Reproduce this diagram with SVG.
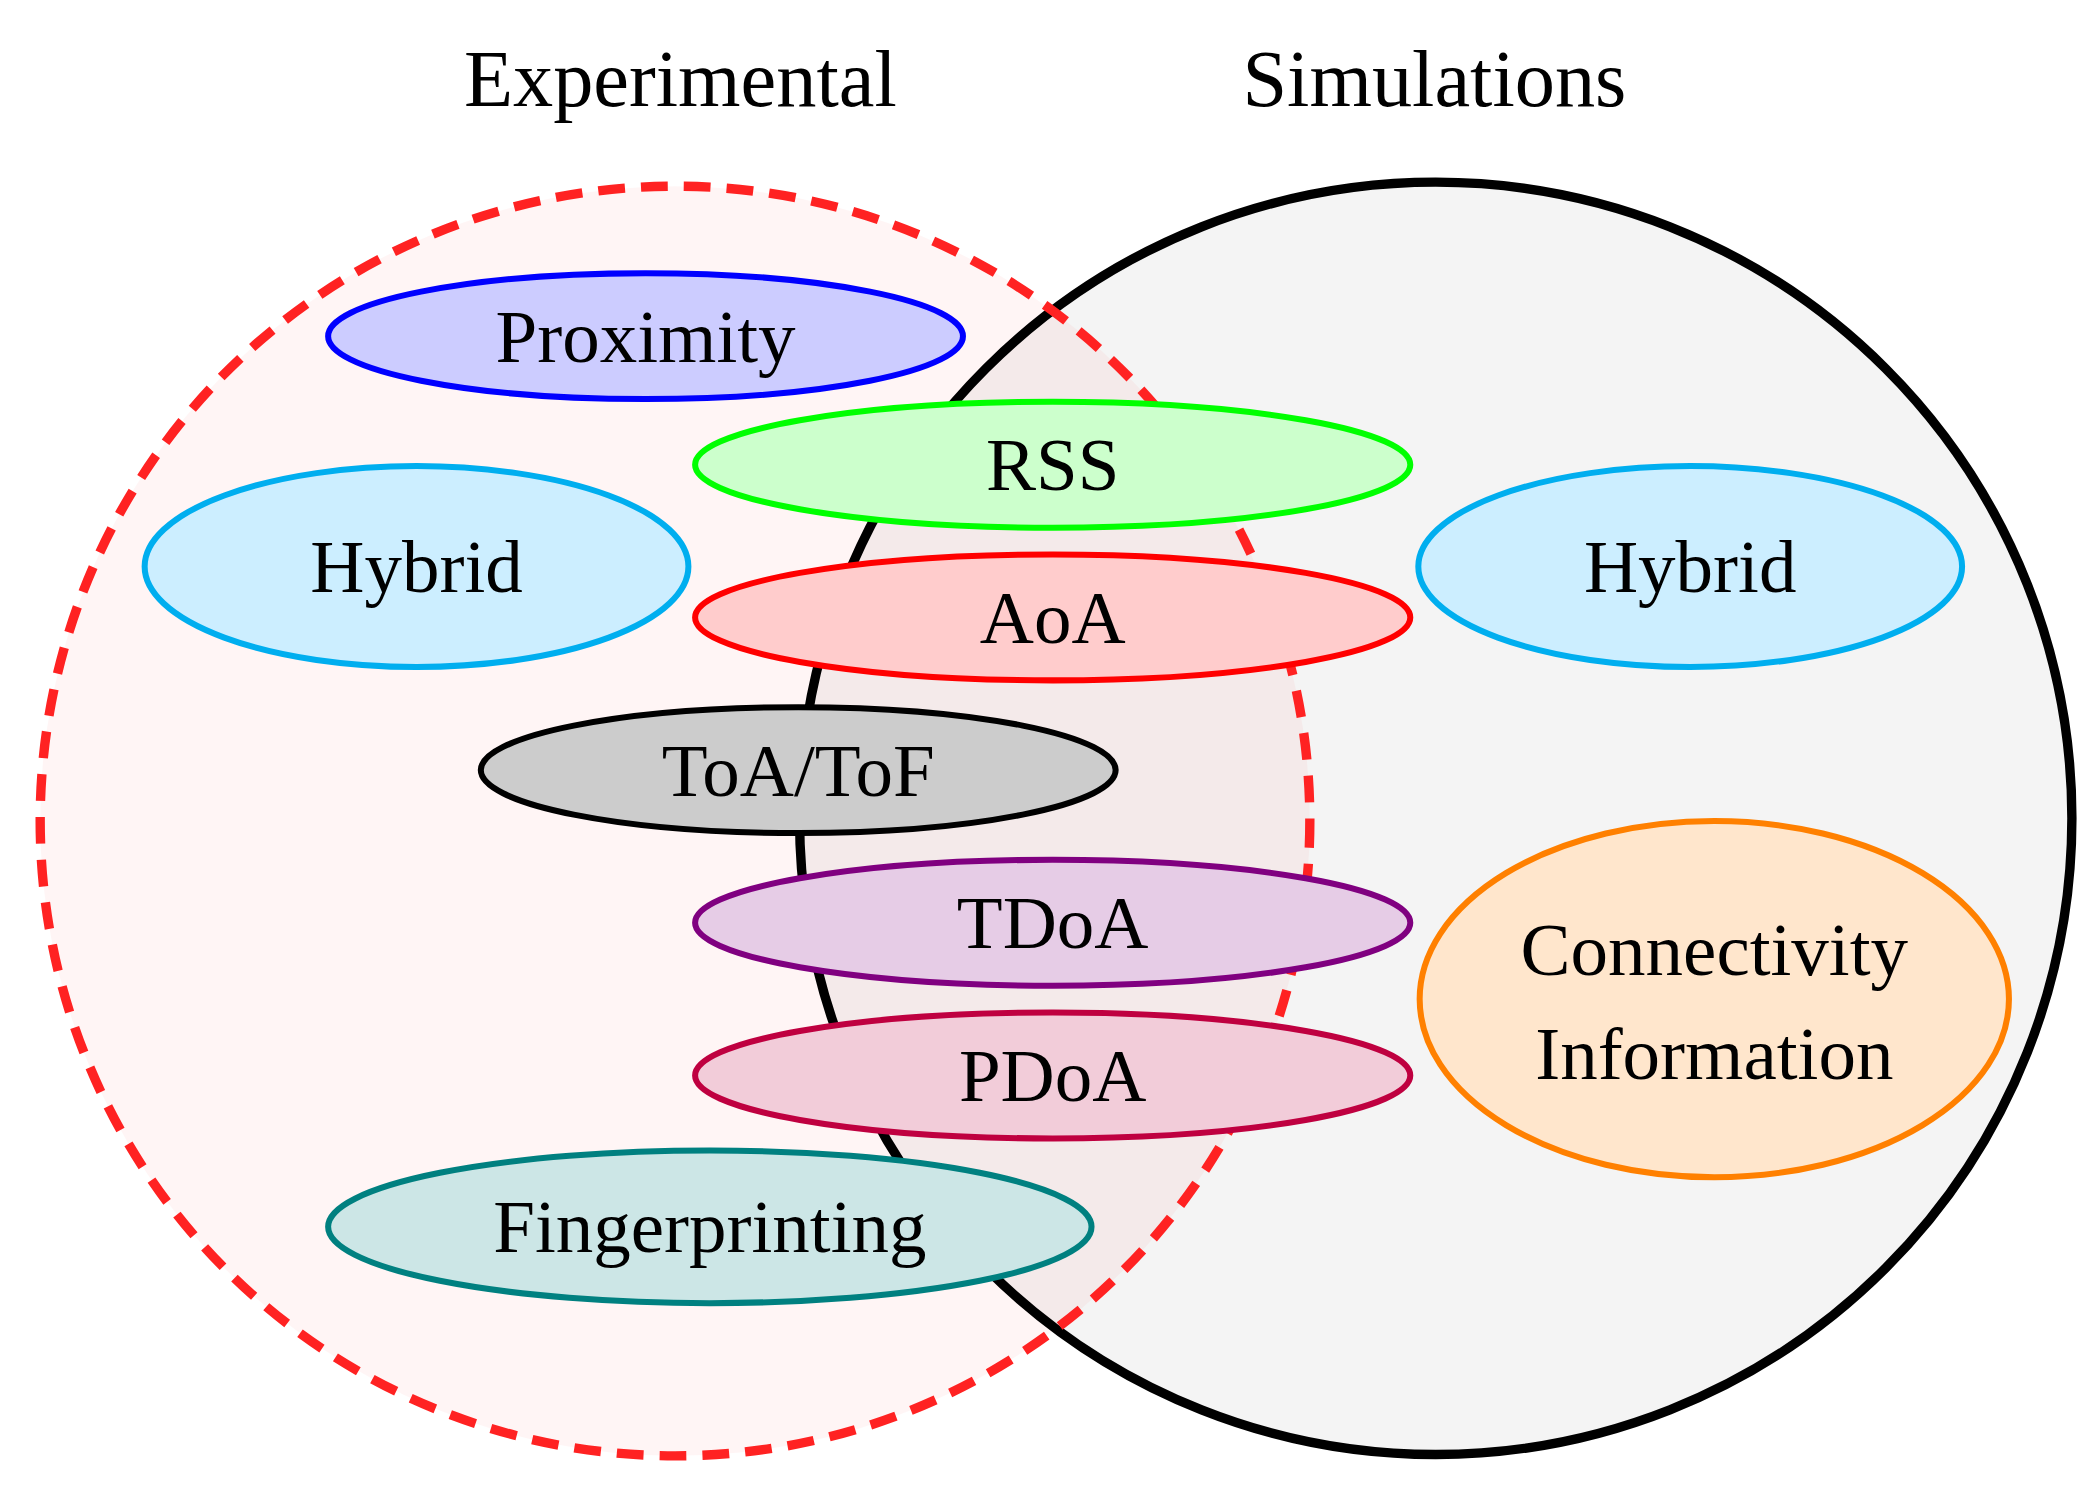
<svg xmlns="http://www.w3.org/2000/svg" width="2100" height="1506" viewBox="0 0 2100 1506">
<style>
text{font-family:"Liberation Serif","DejaVu Serif",serif;text-anchor:middle;fill:#000}
.t{font-size:60px}
.l{font-size:56px}
.e{stroke-width:4.5}
</style>
<rect width="2100" height="1506" fill="#fff"/>
<g transform="scale(1.3393)">
<g id="sets">
<circle cx="1072" cy="611" r="475" fill="#f4f4f4"/>
<circle cx="504" cy="613" r="474" fill="#ff0000" fill-opacity="0.04"/>
<circle id="simulations" cx="1072" cy="611" r="475" fill="none" stroke="#000" stroke-width="7"/>
<circle id="experimental" cx="504" cy="613" r="474" fill="none" stroke="#f22" stroke-width="7" stroke-dasharray="20 12"/>
<text class="t" x="508" y="79">Experimental</text>
<text class="t" x="1071" y="79">Simulations</text>
</g>
<g id="connectors"></g>
<g id="proximity"><ellipse class="e" cx="482" cy="251" rx="237" ry="47" fill="#ccccff" stroke="#0000ff"/><text class="l" x="482" y="270">Proximity</text></g>
<g id="rss"><ellipse class="e" cx="786" cy="347" rx="267" ry="47" fill="#ccffcc" stroke="#00ff00"/><text class="l" x="786" y="366">RSS</text></g>
<g id="hybrid-left"><ellipse class="e" cx="311" cy="423" rx="203" ry="75" fill="#cceeff" stroke="#00aeef"/><text class="l" x="311" y="442">Hybrid</text></g>
<g id="hybrid-right"><ellipse class="e" cx="1262" cy="423" rx="203" ry="75" fill="#cceeff" stroke="#00aeef"/><text class="l" x="1262" y="442">Hybrid</text></g>
<g id="aoa"><ellipse class="e" cx="786" cy="461" rx="267" ry="47" fill="#ffcccc" stroke="#ff0000"/><text class="l" x="786" y="480">AoA</text></g>
<g id="toa"><ellipse class="e" cx="596" cy="575" rx="237" ry="47" fill="#cccccc" stroke="#000"/><text class="l" x="596" y="594">ToA/ToF</text></g>
<g id="tdoa"><ellipse class="e" cx="786" cy="689" rx="267" ry="47" fill="#e6cce6" stroke="#800080"/><text class="l" x="786" y="708">TDoA</text></g>
<g id="connectivity"><ellipse class="e" cx="1280" cy="746" rx="220" ry="133" fill="#ffe6cc" stroke="#ff8000"/><text class="l" x="1280" y="728">Connectivity</text><text class="l" x="1280" y="806">Information</text></g>
<g id="pdoa"><ellipse class="e" cx="786" cy="803" rx="267" ry="47" fill="#f2ccd9" stroke="#bf0040"/><text class="l" x="786" y="822">PDoA</text></g>
<g id="fingerprinting"><ellipse class="e" cx="530" cy="916" rx="285" ry="57" fill="#cce6e6" stroke="#008080"/><text class="l" x="530" y="935">Fingerprinting</text></g>
</g>
</svg>
